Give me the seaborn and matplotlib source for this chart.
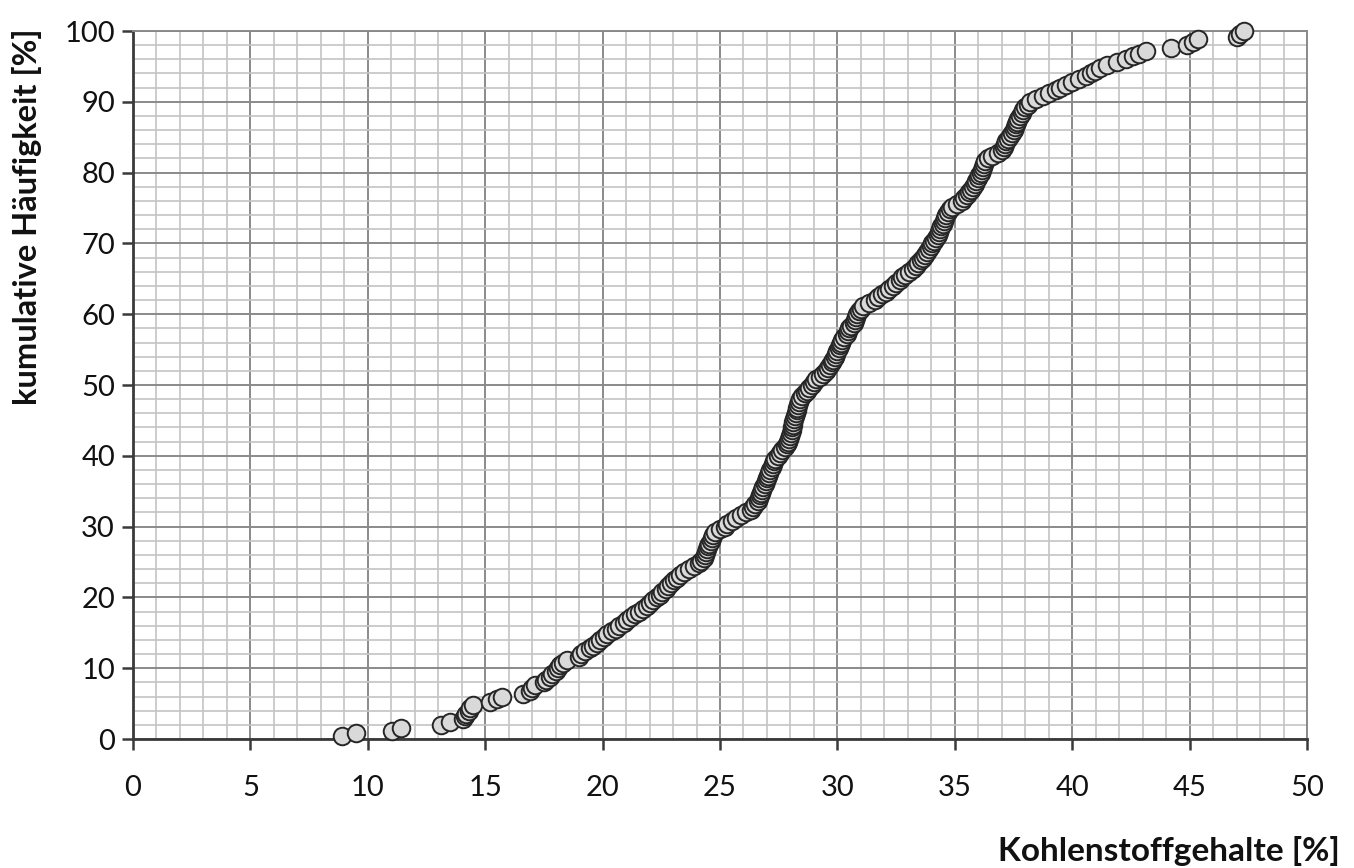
import numpy as np
import pandas as pd
import matplotlib
matplotlib.use("Agg")
import matplotlib.pyplot as plt
from matplotlib.ticker import MultipleLocator
import seaborn as sns

# Kohlenstoffgehalte der Proben [%], aufsteigend sortiert
kohlenstoff = [
    8.9, 9.5, 11.05, 11.4, 13.1, 13.5, 14.05, 14.15, 14.2, 14.3,
    14.35, 14.5, 15.2, 15.5, 15.7, 16.6, 16.9, 17.0, 17.1, 17.5,
    17.6, 17.75, 17.85, 18.0, 18.1, 18.2, 18.3, 18.5, 19.0, 19.1,
    19.25, 19.45, 19.6, 19.75, 19.9, 20.05, 20.2, 20.4, 20.55, 20.7,
    20.9, 21.05, 21.2, 21.4, 21.55, 21.7, 21.9, 22.0, 22.15, 22.3,
    22.45, 22.55, 22.7, 22.8, 22.9, 23.05, 23.15, 23.3, 23.45, 23.7,
    23.9, 24.1, 24.2, 24.3, 24.35, 24.4, 24.45, 24.5, 24.55, 24.6,
    24.65, 24.7, 24.8, 25.0, 25.2, 25.3, 25.5, 25.7, 25.9, 26.1,
    26.3, 26.4, 26.5, 26.6, 26.65, 26.7, 26.75, 26.8, 26.85, 26.9,
    26.95, 27.0, 27.05, 27.1, 27.15, 27.2, 27.25, 27.3, 27.35, 27.45,
    27.55, 27.65, 27.75, 27.85, 27.9, 27.95, 28.0, 28.02, 28.05, 28.08,
    28.1, 28.13, 28.16, 28.2, 28.23, 28.26, 28.3, 28.33, 28.37, 28.42,
    28.5, 28.6, 28.7, 28.8, 28.9, 29.0, 29.1, 29.25, 29.4, 29.5,
    29.6, 29.68, 29.75, 29.82, 29.88, 29.95, 30.0, 30.05, 30.1, 30.15,
    30.2, 30.3, 30.4, 30.45, 30.5, 30.6, 30.7, 30.75, 30.8, 30.85,
    30.9, 31.0, 31.1, 31.35, 31.6, 31.75, 31.9, 32.05, 32.2, 32.35,
    32.5, 32.65, 32.75, 32.9, 33.05, 33.2, 33.35, 33.45, 33.55, 33.65,
    33.72, 33.8, 33.9, 34.0, 34.05, 34.12, 34.2, 34.27, 34.33, 34.38,
    34.43, 34.48, 34.53, 34.58, 34.63, 34.7, 34.78, 34.9, 35.1, 35.3,
    35.4, 35.5, 35.6, 35.7, 35.78, 35.85, 35.92, 36.0, 36.05, 36.1,
    36.15, 36.2, 36.25, 36.3, 36.4, 36.6, 36.85, 37.0, 37.1, 37.15,
    37.2, 37.28, 37.35, 37.42, 37.5, 37.55, 37.6, 37.65, 37.7, 37.78,
    37.85, 37.92, 38.0, 38.1, 38.2, 38.45, 38.75, 39.0, 39.3, 39.5,
    39.75, 40.0, 40.3, 40.6, 40.8, 40.95, 41.2, 41.5, 41.9, 42.3,
    42.6, 42.85, 43.15, 44.2, 44.9, 45.15, 45.35, 47.0, 47.15, 47.3,
]

x_ticks = [0, 5, 10, 15, 20, 25, 30, 35, 40, 45, 50]
y_ticks = [0, 10, 20, 30, 40, 50, 60, 70, 80, 90, 100]

# kumulative Häufigkeit je Probe (Rang / Anzahl)
werte = np.sort(np.asarray(kohlenstoff))
kumuliert = np.arange(1, len(werte) + 1) / len(werte) * 100
df = pd.DataFrame({"Kohlenstoffgehalt": werte, "Haeufigkeit": kumuliert})

sns.set_theme(style="white")
plt.rcParams["font.family"] = ["Lato", "DejaVu Sans"]

fig = plt.figure(figsize=(13.54, 8.68), dpi=100)
ax = fig.add_axes([133 / 1354, 1 - 739 / 868, (1307 - 133) / 1354, (739 - 31) / 868])

ax.set_xlim(0, 50)
ax.set_ylim(0, 100)
ax.set_xticks(x_ticks)
ax.set_yticks(y_ticks)
ax.xaxis.set_minor_locator(MultipleLocator(1))
ax.yaxis.set_minor_locator(MultipleLocator(2))
ax.grid(which="minor", color="#c4c4c4", linewidth=1.2, zorder=0)
ax.grid(which="major", color="#8a8a8a", linewidth=1.4, zorder=0)
ax.set_axisbelow(True)

sns.scatterplot(
    data=df, x="Kohlenstoffgehalt", y="Haeufigkeit", ax=ax,
    s=160, color="#d9d9d9", edgecolor="#262626", linewidth=1.4,
    zorder=3, clip_on=False, legend=False,
)

for side in ("top", "right"):
    ax.spines[side].set_color("#8a8a8a")
    ax.spines[side].set_linewidth(1.4)
for side in ("left", "bottom"):
    ax.spines[side].set_color("#3a3a3a")
    ax.spines[side].set_linewidth(2.0)

ax.tick_params(axis="both", which="major", direction="out", length=8, width=1.8,
               color="#3a3a3a", labelsize=21, labelcolor="#111111",
               left=True, bottom=True)
ax.tick_params(axis="x", which="major", pad=18)
ax.tick_params(axis="y", which="major", pad=5)
ax.tick_params(axis="both", which="minor", length=0)

ax.set_xlabel("")
ax.set_ylabel("")
fig.text(1340 / 1354, 1 - 851 / 868, "Kohlenstoffgehalte [%]", ha="right", va="center",
         fontsize=24, fontweight="bold", color="#111111")
fig.text(27 / 1354, 1 - 28 / 868, "kumulative Häufigkeit [%]", ha="center", va="top",
         rotation=90, fontsize=23.5, fontweight="bold", color="#111111")

fig.savefig("out.png", dpi=100)
